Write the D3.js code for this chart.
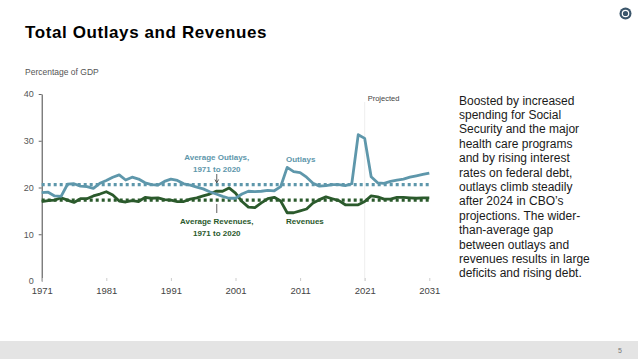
<!DOCTYPE html>
<html><head><meta charset="utf-8">
<script src="https://cdn.jsdelivr.net/npm/d3@7"></script>
<style>body{margin:0;background:#fff}svg{display:block}</style>
</head><body>
<script>
const years = d3.range(1971, 2032);
const outlays = [18.9,19.0,18.2,18.1,20.7,20.8,20.3,20.2,19.8,20.9,21.5,22.2,22.7,21.6,22.2,21.8,21.0,20.6,20.5,21.3,21.8,21.5,20.8,20.5,20.1,19.7,19.1,18.6,18.1,17.7,17.7,18.6,19.2,19.1,19.2,19.4,19.3,20.2,24.3,23.4,23.2,22.2,20.9,20.3,20.4,20.6,20.6,20.4,20.8,31.3,30.5,22.3,21.0,20.9,21.3,21.6,21.8,22.2,22.5,22.8,23.1];
const revenues = [17.0,17.2,17.3,17.8,17.3,16.8,17.6,17.6,18.2,18.6,19.1,18.4,17.1,16.9,17.2,17.0,17.9,17.7,17.8,17.4,17.3,17.0,17.0,17.5,17.8,18.2,18.6,19.2,19.2,19.9,18.8,17.0,15.8,15.7,16.7,17.6,17.9,17.1,14.6,14.6,15.0,15.4,16.7,17.4,18.0,17.6,17.2,16.3,16.3,16.3,17.0,18.2,18.0,17.5,17.5,17.9,17.9,17.8,17.7,17.8,17.8];
const avgOutlays = 20.6;
const avgRevenues = 17.3;
const yTicks = [0,10,20,30,40];
const xTicks = [1971,1981,1991,2001,2011,2021,2031];
const projectedYear = 2021;
const noteLines = ["Boosted by increased","spending for Social","Security and the major","health care programs","and by rising interest","rates on federal debt,","outlays climb steadily","after 2024 in CBO\u2019s","projections. The wider-","than-average gap","between outlays and","revenues results in large","deficits and rising debt."];

const W=638,H=359;
const cO="#5e97ab", cR="#2b5a2c";
const svg=d3.select("body").append("svg").attr("width",W).attr("height",H);
const x=d3.scaleLinear().domain([1971,2031]).range([41.7,429.3]);
const y=d3.scaleLinear().domain([0,40]).range([281,94]);
const ff="Liberation Sans, Arial";

// footer
svg.append("rect").attr("x",0).attr("y",341).attr("width",W).attr("height",18).attr("fill","#e4e4e4");
svg.append("text").attr("x",618).attr("y",353).attr("font-family",ff).attr("font-size",7).attr("fill","#777").text("5");
// logo
svg.append("circle").attr("cx",625.5).attr("cy",13.5).attr("r",6).attr("fill","#3b566b");
svg.append("circle").attr("cx",625.5).attr("cy",13.5).attr("r",3.2).attr("fill","none").attr("stroke","#fff").attr("stroke-width",1.2);

// title
svg.append("text").attr("x",25).attr("y",37.5).attr("font-family",ff).attr("font-weight","bold").attr("font-size",17).attr("letter-spacing",0.6).attr("fill","#000").text("Total Outlays and Revenues");

svg.append("text").attr("x",25).attr("y",75).attr("font-family",ff).attr("font-size",8.5).attr("fill","#555").text("Percentage of GDP");

// projected line
svg.append("line").attr("x1",x(projectedYear)).attr("x2",x(projectedYear)).attr("y1",102).attr("y2",281).attr("stroke","#eeeeee").attr("stroke-width",1);
svg.append("text").attr("x",x(projectedYear)+3).attr("y",101).attr("font-family",ff).attr("font-size",7.5).attr("fill","#444").text("Projected");

// y axis
const ya=svg.append("g").attr("transform",`translate(${x(1971)},0)`).call(d3.axisLeft(y).tickValues(yTicks).tickSize(3).tickSizeOuter(0));
ya.select(".domain").attr("stroke","#444").attr("stroke-width",1);
ya.selectAll(".tick line").attr("stroke","#666");
ya.selectAll(".tick text").attr("font-family",ff).attr("font-size",9).attr("fill","#555").attr("x",-8);
ya.selectAll(".tick").filter(d=>d===0).select("line").remove();

// x axis
const xa=svg.append("g").attr("transform",`translate(0,${y(0)})`).call(d3.axisBottom(x).tickValues(xTicks).tickFormat(d3.format("d")).tickSize(-3).tickSizeOuter(0));
xa.select(".domain").remove();
xa.selectAll(".tick line").attr("stroke","#ccc");
xa.selectAll(".tick text").attr("font-family",ff).attr("font-size",9.5).attr("fill","#444").attr("y",6);

// averages
svg.append("line").attr("x1",x(1971)).attr("x2",x(2031)).attr("y1",y(avgOutlays)).attr("y2",y(avgOutlays)).attr("stroke",cO).attr("stroke-width",3.2).attr("stroke-dasharray","3,3");
svg.append("line").attr("x1",x(1971)).attr("x2",x(2031)).attr("y1",y(avgRevenues)).attr("y2",y(avgRevenues)).attr("stroke",cR).attr("stroke-width",3.2).attr("stroke-dasharray","3,3");

const line=d3.line().x((d,i)=>x(years[i])).y(d=>y(d)).curve(d3.curveLinear);
svg.append("path").datum(revenues).attr("d",line).attr("fill","none").attr("stroke",cR).attr("stroke-width",2.8).attr("stroke-linejoin","round");
svg.append("path").datum(outlays).attr("d",line).attr("fill","none").attr("stroke",cO).attr("stroke-width",2.8).attr("stroke-linejoin","round");

// annotations
function lbl(t,xx,yy,c){svg.append("text").attr("x",xx).attr("y",yy).attr("text-anchor","middle").attr("font-family",ff).attr("font-weight","bold").attr("font-size",8).attr("fill",c).text(t);}
const ax=x(1998.1);
lbl("Average Outlays,",ax,160,cO);
lbl("1971 to 2020",ax,171.5,cO);
svg.append("line").attr("x1",ax).attr("x2",ax).attr("y1",174).attr("y2",182).attr("stroke","#333").attr("stroke-width",0.8);
svg.append("path").attr("d",`M${ax-1.8},179.5L${ax},183L${ax+1.8},179.5`).attr("fill","none").attr("stroke","#333").attr("stroke-width",0.8);
svg.append("line").attr("x1",ax).attr("x2",ax).attr("y1",204).attr("y2",213).attr("stroke","#333").attr("stroke-width",0.8);
lbl("Average Revenues,",ax,224,cR);
lbl("1971 to 2020",ax,235.5,cR);
svg.append("text").attr("x",286).attr("y",162).attr("font-family",ff).attr("font-weight","bold").attr("font-size",8).attr("fill",cO).text("Outlays");
svg.append("text").attr("x",286).attr("y",224).attr("font-family",ff).attr("font-weight","bold").attr("font-size",8).attr("fill",cR).text("Revenues");

// note text
const nt=svg.append("text").attr("font-family",ff).attr("font-size",12).attr("fill","#1a1a1a");
noteLines.forEach((t,i)=>nt.append("tspan").attr("x",459).attr("y",104.5+i*14.4).text(t));
</script>
</body></html>
